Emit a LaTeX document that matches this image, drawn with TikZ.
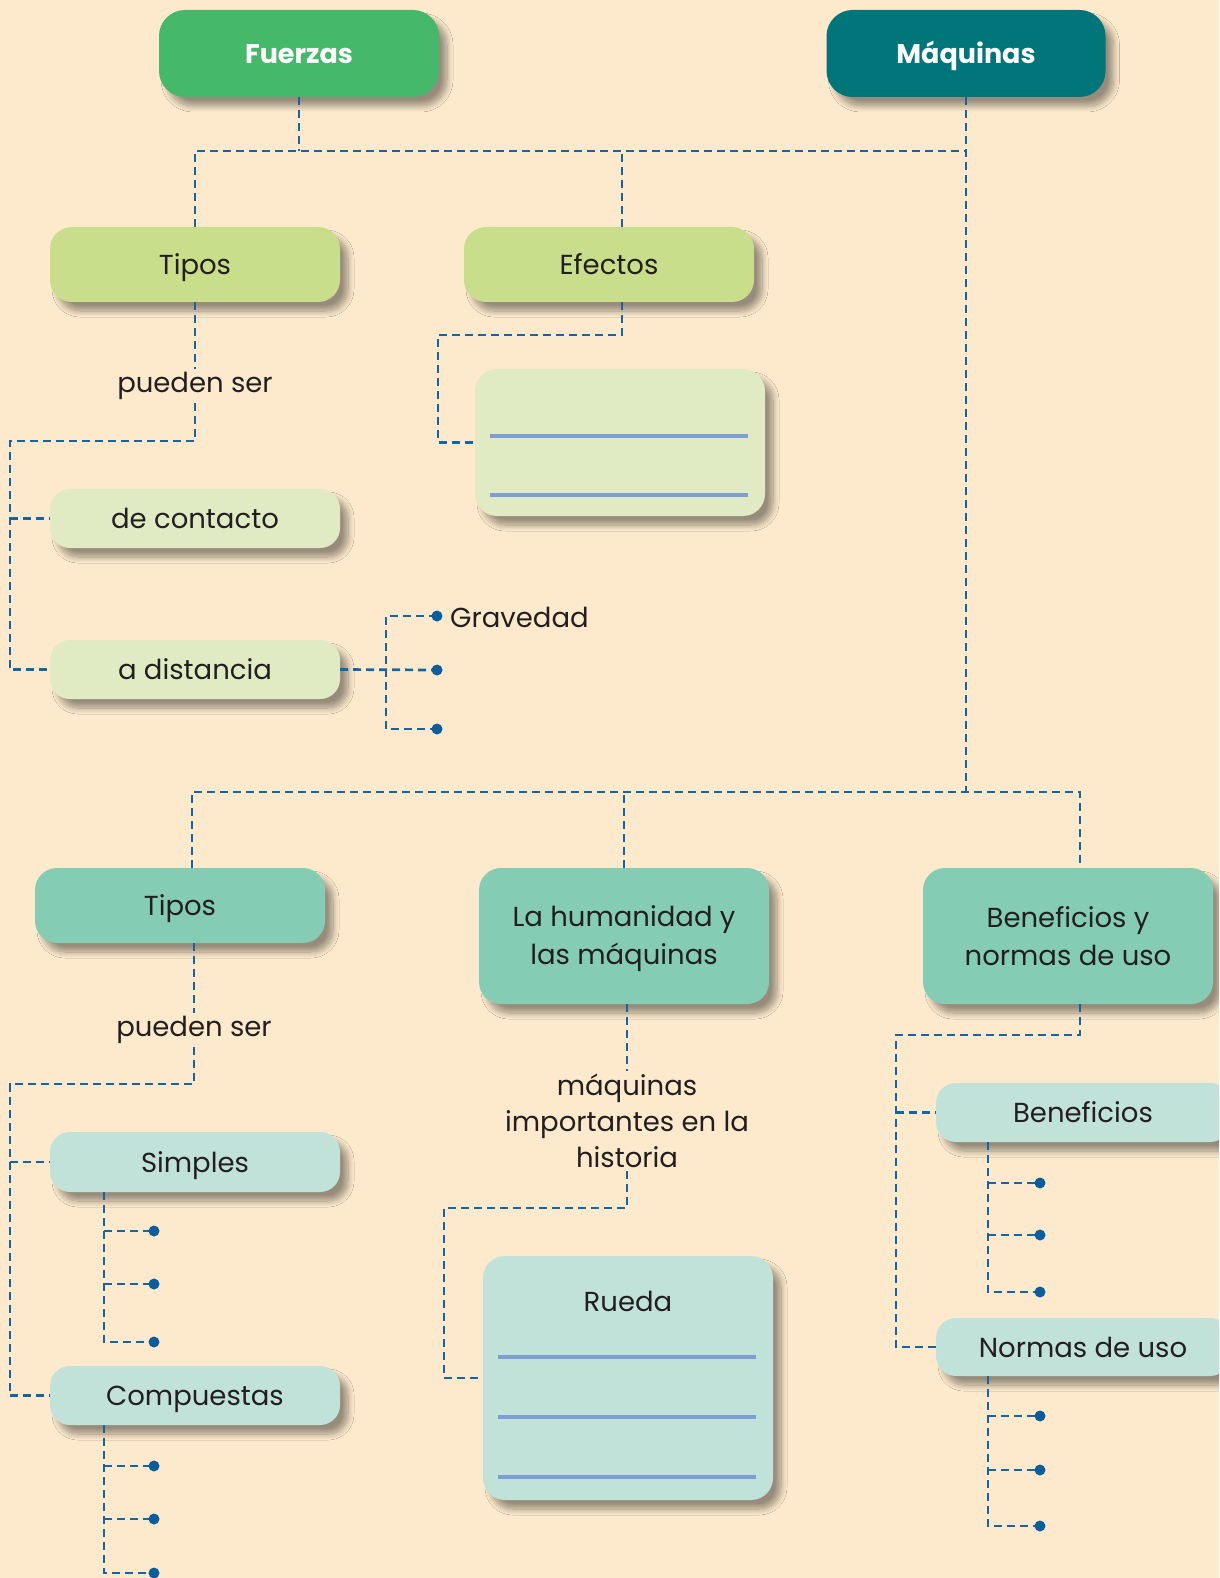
\documentclass[tikz,border=0pt]{standalone}
\usepackage{fontspec}
\setmainfont{Poppins}
\usetikzlibrary{shadows,shadows.blur,calc}
\definecolor{bg}{HTML}{FDEACD}
\definecolor{cgreen}{HTML}{45B86A}
\definecolor{cteal}{HTML}{00757A}
\definecolor{clgreen}{HTML}{C9DE8A}
\definecolor{cpgreen}{HTML}{E1EBC3}
\definecolor{cmteal}{HTML}{84CDB4}
\definecolor{cpteal}{HTML}{C1E2D8}
\definecolor{cline}{HTML}{1565A3}
\definecolor{cdot}{HTML}{0A5E9E}
\definecolor{cwrite}{HTML}{7E9ED6}
\definecolor{ctext}{HTML}{231F20}
\newcommand{\topfix}{\rule{0pt}{27pt}}
\newcommand{\botfix}{\rule[-7pt]{0pt}{0pt}}
\tikzset{
  box/.style={rounded corners=22pt, inner sep=0pt, align=center, text=ctext,
    font=\fontsize{27.5}{38}\selectfont,
    blur shadow={shadow xshift=8pt, shadow yshift=-9pt, shadow blur radius=6pt, shadow blur steps=10, shadow opacity=40}},
  sbox/.style={box, text height=27pt, text depth=7pt},
  hbox/.style={sbox, rounded corners=26pt, text=white, font=\fontsize{27}{34}\selectfont\bfseries},
  dl/.style={draw=cline, line width=2.7pt, dash pattern=on 8pt off 5pt},
  lab/.style={inner sep=3pt, text=ctext, align=center, font=\fontsize{27.5}{36}\selectfont},
  wline/.style={draw=cwrite, line width=3.2pt},
  dotf/.style={fill=cdot}
}
\begin{document}
\begin{tikzpicture}[x=1pt,y=-1pt]
\clip (0,0) rectangle (1219,1578);
\fill[bg] (0,0) rectangle (1219,1578);

% header nodes
\node[hbox, fill=cgreen, minimum width=280pt, minimum height=87pt] (fuerzas) at (299,53.5) {Fuerzas};
\node[hbox, fill=cteal, minimum width=279pt, minimum height=87pt] (maq) at (966,53.5) {Máquinas};

% fuerzas branch
\node[sbox, fill=clgreen, minimum width=290pt, minimum height=75pt] (tipos1) at (195,264.5) {Tipos};
\node[sbox, fill=clgreen, minimum width=290pt, minimum height=75pt] (efectos) at (609,264.5) {Efectos};
\node[sbox, rounded corners=20pt, fill=cpgreen, minimum width=290pt, minimum height=59pt] (contacto) at (195,518.5) {de contacto};
\node[sbox, rounded corners=20pt, fill=cpgreen, minimum width=290pt, minimum height=59pt] (distancia) at (195,669.5) {a distancia};
\node[box, fill=cpgreen, minimum width=290pt, minimum height=147pt] (blank1) at (620,442.5) {};
\draw[wline] (490,436) -- (748,436);
\draw[wline] (490,495) -- (748,495);

% maquinas branch
\node[sbox, fill=cmteal, minimum width=290pt, minimum height=75pt] (tipos2) at (180,905.5) {Tipos};
\node[box, fill=cmteal, minimum width=290pt, minimum height=136pt] (humanidad) at (624,936) {\topfix La humanidad y\\las máquinas\botfix};
\node[box, fill=cmteal, minimum width=290pt, minimum height=136pt] (benefy) at (1068,936) {\topfix Beneficios y\\normas de uso\botfix};
\node[sbox, rounded corners=20pt, fill=cpteal, minimum width=290pt, minimum height=60pt] (simples) at (195,1162) {Simples};
\node[sbox, rounded corners=20pt, fill=cpteal, minimum width=290pt, minimum height=59pt] (compuestas) at (195,1395.5) {Compuestas};
\node[box, fill=cpteal, minimum width=290pt, minimum height=244pt] (rueda) at (628,1378) {};
\node[lab, inner sep=0pt] (ruedat) at (628,1301) {Rueda};
\draw[wline] (498,1357) -- (756,1357);
\draw[wline] (498,1417) -- (756,1417);
\draw[wline] (498,1477) -- (756,1477);
\node[sbox, rounded corners=20pt, fill=cpteal, minimum width=294pt, minimum height=59pt] (beneficios) at (1083,1112.5) {Beneficios};
\node[sbox, rounded corners=20pt, fill=cpteal, minimum width=294pt, minimum height=58pt] (normas) at (1083,1347) {Normas de uso};

% top connectors
\coordinate (ht) at (0,151);
\coordinate (hb) at (0,792);
\draw[dl] (fuerzas.south) -- (fuerzas.south |- ht);
\draw[dl] (tipos1.north) |- (maq.south |- ht);
\draw[dl] (maq.south) -- (maq.south |- hb);
\coordinate (efx) at (622,0);
\draw[dl] (efectos.north -| efx) -- (efx |- ht);

% tipos1
\node[lab] (lab1) at (195,386) {pueden ser};
\draw[dl] (tipos1.south) -- (lab1.north);
\coordinate (c1) at (10,441);
\draw[dl] (lab1.south) |- (c1) |- (distancia.west);
\draw[dl] (c1 |- contacto.west) -- (contacto.west);

% a distancia
\coordinate (g1) at (437,616);
\coordinate (g2) at (437,670);
\coordinate (g3) at (437,729);
\coordinate (gx) at (386,0);
\draw[dl] (distancia.east) -- (g2);
\draw[dl] (g1) -- (gx |- g1) -- (gx |- g3) -- (g3);
\foreach \p in {g1,g2,g3} \fill[dotf] (\p) circle (5.5);
\node[lab, anchor=west, inner sep=0pt] (grav) at (450,617) {Gravedad};

% efectos
\coordinate (e1) at (622,335);
\coordinate (e2) at (438,335);
\draw[dl] (efectos.south -| efx) -- (e1) -- (e2) |- (blank1.west);

% bottom connectors
\coordinate (b1) at (192,792);
\coordinate (b3) at (1080,792);
\draw[dl] (tipos2.north -| b1) -- (b1) -- (b3) -- (benefy.north -| b3);
\draw[dl] (humanidad.north) -- (humanidad.north |- hb);

% tipos2
\node[lab] (lab2) at (194,1030) {pueden ser};
\draw[dl] (tipos2.south -| lab2.north) -- (lab2.north);
\coordinate (c2) at (10,1084);
\draw[dl] (lab2.south) |- (c2) |- (compuestas.west);
\draw[dl] (c2 |- simples.west) -- (simples.west);

% simples
\coordinate (sx) at (104,0);
\coordinate (s1) at (154,1231);
\coordinate (s2) at (154,1284);
\coordinate (s3) at (154,1342);
\draw[dl] (simples.south -| sx) -- (sx |- s3) -- (s3);
\draw[dl] (sx |- s1) -- (s1);
\draw[dl] (sx |- s2) -- (s2);
\foreach \p in {s1,s2,s3} \fill[dotf] (\p) circle (5.5);

% compuestas
\coordinate (k1) at (154,1466);
\coordinate (k2) at (154,1519);
\coordinate (k3) at (154,1573);
\draw[dl] (compuestas.south -| sx) -- (sx |- k3) -- (k3);
\draw[dl] (sx |- k1) -- (k1);
\draw[dl] (sx |- k2) -- (k2);
\foreach \p in {k1,k2,k3} \fill[dotf] (\p) circle (5.5);

% humanidad
\node[lab] (lab3) at (627,1121) {máquinas\\importantes en la\\historia};
\draw[dl] (humanidad.south -| lab3.north) -- (lab3.north);
\coordinate (h1) at (444,1208);
\draw[dl] (lab3.south) |- (h1) |- (rueda.west);

% beneficios y normas
\coordinate (bb1) at (1080,1035);
\coordinate (bb2) at (896,1035);
\draw[dl] (benefy.south -| bb1) -- (bb1) -- (bb2) |- (normas.west);
\draw[dl] (bb2 |- beneficios.west) -- (beneficios.west);

\coordinate (bx) at (988,0);
\coordinate (n1) at (1040,1183);
\coordinate (n2) at (1040,1235);
\coordinate (n3) at (1040,1292);
\draw[dl] (beneficios.south -| bx) -- (bx |- n3) -- (n3);
\draw[dl] (bx |- n1) -- (n1);
\draw[dl] (bx |- n2) -- (n2);
\foreach \p in {n1,n2,n3} \fill[dotf] (\p) circle (5.5);

\coordinate (m1) at (1040,1416);
\coordinate (m2) at (1040,1470);
\coordinate (m3) at (1040,1526);
\draw[dl] (normas.south -| bx) -- (bx |- m3) -- (m3);
\draw[dl] (bx |- m1) -- (m1);
\draw[dl] (bx |- m2) -- (m2);
\foreach \p in {m1,m2,m3} \fill[dotf] (\p) circle (5.5);
\end{tikzpicture}
\end{document}
